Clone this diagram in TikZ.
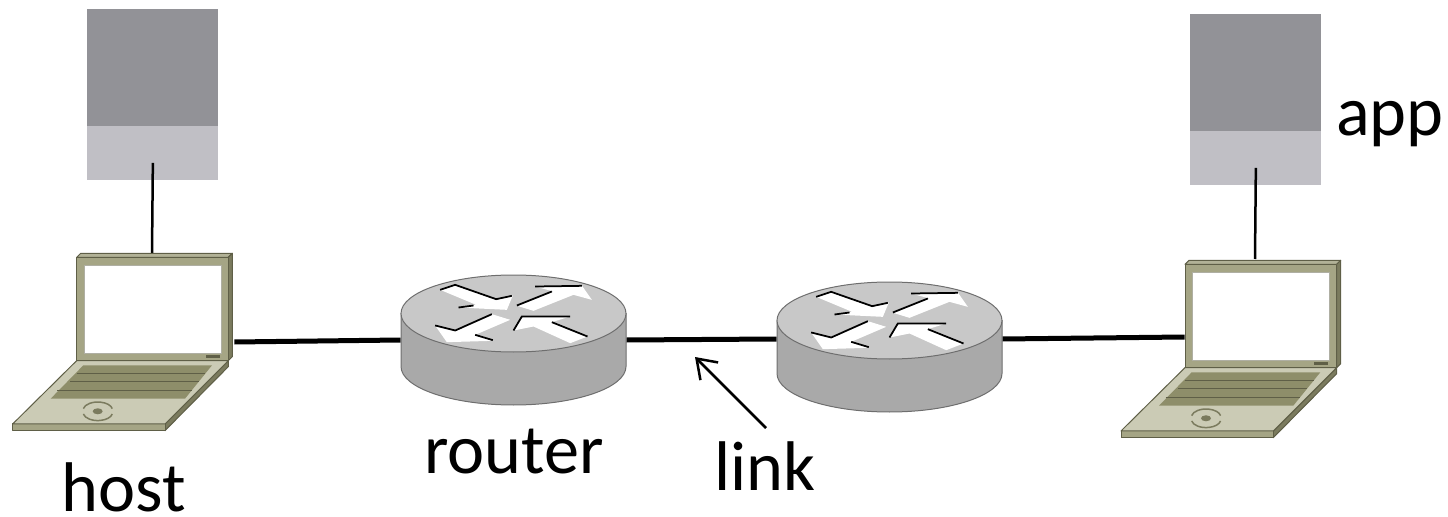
\documentclass[tikz,border=0pt]{standalone}
\usepackage{fontspec}
\setmainfont{Carlito}
\usetikzlibrary{arrows.meta}
\definecolor{appdark}{HTML}{929297}
\definecolor{applight}{HTML}{C0BFC5}
\definecolor{rtrtop}{HTML}{C8C8C8}
\definecolor{rtrside}{HTML}{A9A9A9}
\definecolor{rtredge}{HTML}{6E6E6E}
\definecolor{lid}{HTML}{A5A585}
\definecolor{lidside}{HTML}{7B7B5E}
\definecolor{lapbase}{HTML}{CBCBB5}
\definecolor{keys}{HTML}{8E8E6A}
\definecolor{lapedge}{HTML}{5F5F47}
\tikzset{
    label/.style={font=\fontsize{40}{40}\selectfont,inner sep=0pt,anchor=base},
    port/.style={inner sep=0pt,minimum height=1pt},
    wire/.style={line width=0.1cm},
    stem/.style={line width=0.05cm},
    shade/.style={black,line width=0.035cm},
    lap/.style={draw=lapedge,line width=0.02cm,line join=round},
    pics/router/.style={code={
        \draw[rtredge,fill=rtrside,line width=0.02cm] (-112.5,0) -- (-112.5,53) arc (180:0:112.5 and 38.5) -- (112.5,0) -- cycle;
        \draw[rtredge,fill=rtrtop,line width=0.02cm] (0,0) ellipse (112.5 and 38.5);
        \begin{scope}[x=0.00667cm,y=-0.00667cm,shift={(-370,-146)}]
        \fill[white] (150,75) -- (195,62) -- (318,105) -- (368,92) -- (350,135) -- (205,128) -- (258,120) -- cycle;
        \fill[white] (435,65) -- (575,62) -- (605,105) -- (550,90) -- (430,138) -- (378,122) -- (490,80) -- cycle;
        \fill[white] (135,182) -- (195,197) -- (305,148) -- (360,165) -- (255,210) -- (308,228) -- (170,232) -- cycle;
        \fill[white] (370,197) -- (395,155) -- (540,155) -- (485,172) -- (592,215) -- (540,235) -- (430,185) -- cycle;
        \draw[shade] (150,75) -- (195,60) -- (318,103) -- (365,93) (205,128) -- (250,122);
        \draw[shade] (435,65) -- (575,63) (380,122) -- (485,80);
        \draw[shade] (135,182) -- (195,197) -- (305,148) (255,210) -- (308,226);
        \draw[shade] (370,197) -- (395,155) -- (540,155) (485,172) -- (592,215);
        \end{scope}
    }},
    pics/laptop/.style={code={
        \begin{scope}[x=0.00667cm,y=-0.00667cm,shift={(-230,-52)}]
        % lid
        \draw[lap,fill=lid!85!white] (230,52) -- (242,40) -- (697,40) -- (685,52) -- cycle;
        \draw[lap,fill=lidside] (685,52) -- (697,40) -- (697,350) -- (685,362) -- cycle;
        \draw[lap,fill=lid] (230,52) rectangle (685,362);
        \draw[draw=lapedge!50!white,fill=white,line width=0.02cm] (253,77) rectangle (663,342);
        \fill[lapedge] (618,345) rectangle (660,353);
        % base
        \draw[lap,fill=lidside] (495,552) -- (685,362) -- (685,380) -- (495,572) -- cycle;
        \draw[lap,fill=lid] (38,552) rectangle (495,572);
        \draw[lap,fill=lapbase] (230,362) -- (685,362) -- (495,552) -- (38,552) -- cycle;
        \fill[keys] (250,376) -- (636,376) -- (555,476) -- (152,476) -- cycle;
        \foreach \ky/\kl/\kr in {401/230/616, 426/210/596, 451/172/576}
        {
            \draw[lapedge,line width=0.02cm] (\kl,\ky) -- (\kr,\ky);
        }
        % touch pad
        \fill[lidside] (293,514) ellipse (15 and 9);
        \draw[lidside,line width=0.03cm] (250,506) arc (190:350:44 and 24);
        \draw[lidside,line width=0.03cm] (250,522) arc (170:10:44 and 24);
        \end{scope}
    }}
}
\begin{document}
\begin{tikzpicture}[x=0.02cm,y=-0.02cm]
\useasboundingbox (0,0) rectangle (1448,517);

% ports where the wires meet the boxes
\foreach \pname/\px/\py/\pw in {lapA/155/342/158, rtrA/513.5/340/225, rtrB/889.5/339/225, lapB/1262/337/154}
{
    \node[port,minimum width=\pw*0.02cm] (\pname) at (\px,\py) {};
}
\draw[wire] (lapA.east) -- (rtrA.west);
\draw[wire] (rtrA.east) -- (rtrB.west);
\draw[wire] (rtrB.east) -- (lapB.west);

% app boxes
\foreach \aname/\ax/\ay in {appA/87/9, appB/1190/14}
{
    \node[fill=applight,minimum width=131*0.02cm,minimum height=171*0.02cm,inner sep=0pt,anchor=north west] (\aname box) at (\ax,\ay) {};
    \node[fill=appdark,minimum width=131*0.02cm,minimum height=117*0.02cm,inner sep=0pt,anchor=north] (\aname up) at (\aname box.north) {};
    \coordinate (\aname stem) at ([yshift=-3.08cm]\aname box.north);
}
\coordinate (lapAtop) at (152,254);
\coordinate (lapBtop) at (1255,259);
\draw[stem] (appAstem) -- (lapAtop);
\draw[stem] (appBstem) -- (lapBtop);

\pic at (76.7,257.3) {laptop};
\pic at (1185,264.3) {laptop};
\pic at (513.5,313.5) {router};
\pic at (889.5,320.5) {router};

\node[label] (hostlbl) at (124,511) {host};
\node[label] (rtrlbl) at (514,473) {router};
\node[label] (linklbl) at (765,490) {link};
\node[label] (applbl) at (1390,135) {app};

\coordinate (linktail) at (766,428);
\coordinate (linkhead) at (695,357);
\draw[stem,-{Straight Barb[length=0.36cm,width=0.5cm]}] (linktail) -- (linkhead);
\end{tikzpicture}
\end{document}
